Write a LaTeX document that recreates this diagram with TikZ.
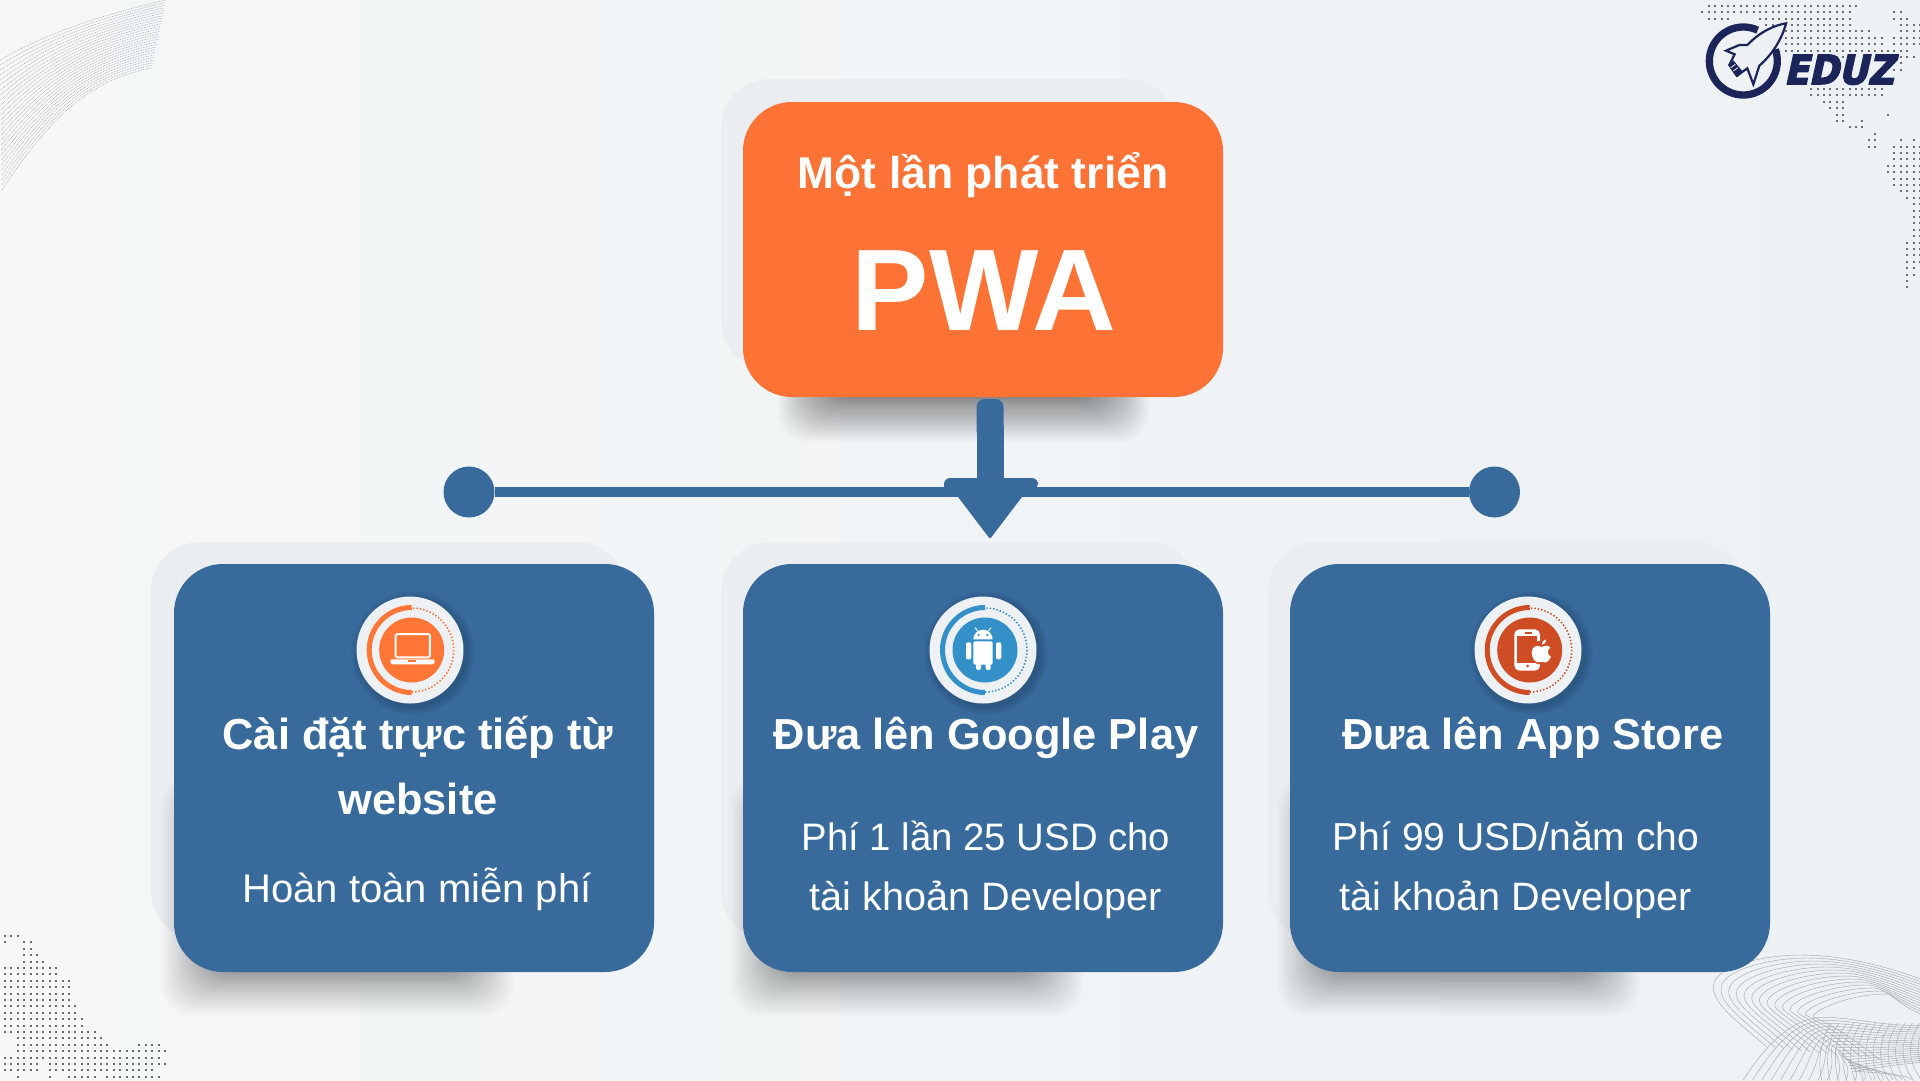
\documentclass[tikz,border=0pt]{standalone}
\usepackage{fontspec}
\setmainfont{Liberation Sans}
\newfontfamily\logofont[FakeBold=4,FakeSlant=0.22,FakeStretch=0.90]{DejaVu Sans Bold}
\usetikzlibrary{positioning}
\definecolor{orangebox}{HTML}{FC7335}
\definecolor{bluebox}{HTML}{386A9C}
\definecolor{logodark}{HTML}{1B2559}
\definecolor{bgL}{HTML}{F5F7F8}
\definecolor{bgR}{HTML}{EDF1F4}
\definecolor{halo}{HTML}{EBEEF1}
\definecolor{disc}{HTML}{EDF1F4}
\definecolor{dotc}{HTML}{6A6D73}
\definecolor{icorange}{HTML}{FF7637}
\definecolor{icblue}{HTML}{3490C8}
\definecolor{icred}{HTML}{CE4D24}
\definecolor{wavegray}{HTML}{A6ACB2}
\tikzset{
  cardbox/.style={rectangle,rounded corners=49pt,fill=bluebox,minimum width=480pt,minimum height=408pt,inner sep=0pt},
  topbox/.style={rectangle,rounded corners=49pt,fill=orangebox,minimum width=480pt,minimum height=295pt,inner sep=0pt},
  headtxt/.style={text=white,anchor=base,inner sep=0pt,font=\fontsize{43.4pt}{48pt}\selectfont\bfseries},
  bodytxt/.style={text=white,anchor=base,inner sep=0pt,font=\fontsize{39.6pt}{46pt}\selectfont},
  enddot/.style={circle,fill=bluebox,minimum size=51pt,inner sep=0pt},
  discnode/.style={circle,fill=disc,minimum size=107pt,inner sep=0pt},
  wave/.style={draw=wavegray,line width=0.45pt},
}
\newcommand{\softshadow}[5]{% x1 y1 x2 y2 strength
  \foreach \i in {1,...,32}{
    \pgfmathsetmacro{\off}{44*((32-\i)/31)^1.3}
    \fill[black,opacity=#5,rounded corners=30pt]
      ({#1-\off},{#2-\off}) rectangle ({#3+\off},{#4+\off});
  }
}
\newcommand{\discshadow}[2]{%
  \foreach \i in {1,...,6}{
    \fill[black,opacity=0.025] ({#1+3},{#2+3}) circle ({53.5+(7-\i)*1.4});
  }
}
\newcommand{\ringicon}[4]{% cx cy colour dx
  \fill[#3] ({#1+#4},#2) circle (32.5);
  \draw[#3,line width=5pt] ({#1+#4},{#2+42.5}) arc[start angle=90,end angle=270,radius=42.5];
  \draw[#3,line width=1.6pt,dash pattern=on 1.4pt off 2pt] ({#1+#4},{#2+42}) arc[start angle=90,end angle=-90,radius=42];
}
\begin{document}
\begin{tikzpicture}[x=1pt,y=-1pt]
\useasboundingbox (0,0) rectangle (1920,1080);
% background
\shade[left color=bgL,right color=bgR] (0,0) rectangle (1920,1080);
\begin{scope}
\clip (0,0) rectangle (1920,1080);
\foreach \i in {1,...,10}{
  \fill[white,opacity=0.07] (0,0) circle ({30+\i*28});
}
% top-left wave
\foreach \k in {0,...,26}{
  \pgfmathsetmacro{\t}{\k/26}
  \draw[wavegray,line width=0.55pt,dash pattern=on 0.8pt off 0.9pt]
    ({0+2*(1-\t)},{190-130*\t}) .. controls ({45-10*\t},{125-85*\t}) and ({85-5*\t},{80-60*\t}) .. ({152+14*\t},{68-68*\t});
}
% bottom-right wave
\begin{scope}[shift={(1700,930)},x=0.3333pt,y=-0.3333pt]
\foreach \k in {0,...,13}{
  \draw[wave] ({200+26*\k},{350+3*\k}) .. controls ({100+26*\k},{265+3*\k}) and ({40+23*\k},{220+3*\k}) .. ({40+23*\k},{170+7*\k})
     .. controls ({40+23*\k},{110+10*\k}) and ({190+20*\k},{75+9*\k}) .. ({300+20*\k},{75+9*\k})
     .. controls ({450+10*\k},{75+9*\k}) and (600,{120+9*\k}) .. (720,{170+8*\k});
}
\foreach \k in {0,...,18}{
  \draw[wave] ({130+28*\k},450) .. controls ({200+24*\k},{340+5*\k}) and ({280+10*\k},{262+9*\k}) .. ({370+5*\k},{262+9*\k})
     .. controls ({470},{262+9*\k}) and (560,{295+6*\k}) .. (720,{285+6*\k});
}
\foreach \k in {0,...,14}{
  \draw[wave] ({395+22*\k},280) .. controls ({360+22*\k},330) and ({350+22*\k},400) .. ({370+26*\k},470);
}
\end{scope}
% dots: bottom left
\foreach \r/\a/\b in {0/0/2,1/0/0,1/3/4,2/3/4,3/3/5,4/3/6,5/0/8,6/0/8,7/0/10,8/0/10,9/0/10,10/0/10,11/0/11,12/0/11,13/0/12,14/0/12,15/0/14,16/2/15,17/2/16,17/21/24,18/2/25,19/0/24,20/0/5,20/7/25,21/0/5,21/7/23,22/2/2,22/7/7,22/10/14,22/16/24}{
  \foreach \c in {\a,...,\b}{
    \fill[dotc] ({4.0+6.4*\c},{935.0+6.4*\r}) rectangle +(1.9,1.9);
  }
}
% dots: top right
\foreach \r/\a/\b in {0/0/26,1/1/24,2/0/23,2/30/31,3/1/4,3/9/23,3/30/32,4/10/23,4/31/34,5/13/26,5/31/34,6/13/28,6/30/34,7/13/28,7/30/34,8/13/32,9/21/23,9/31/33,10/30/31,11/30/31,14/17/28,15/17/28,16/19/22,17/20/22,18/21/22,18/29/29,19/21/22,19/25/25,20/23/25,21/27/27,22/26/27,22/31/31,22/33/33,23/26/27,23/30/34,24/30/34,25/30/34,26/29/34,27/29/34,28/30/34,29/30/34,30/31/34,31/32/34,32/33/34,33/33/34,34/33/34,35/33/34,36/33/34,37/33/34,38/32/34,39/32/34,40/32/34,41/32/34,42/32/33,43/32/33,44/32/32,45/32/32}{
  \foreach \c in {\a,...,\b}{
    \fill[dotc] ({1701.4+6.4*\c},{-1.6+6.4*\r}) rectangle +(1.9,1.9);
  }
}
\end{scope}
% logo
\begin{scope}[shift={(1700,15)},x=0.3333pt,y=-0.3333pt]
  \draw[logodark,line width=7.3pt] ({130+102*cos(65)},{138-102*sin(65)}) arc[start angle=-65,end angle=-380,radius=102];
  \draw[logodark,line width=2.2pt,line join=miter,fill=bgR,miter limit=8]
    (258,25) .. controls (225,30) and (180,50) .. (142,90) -- (118,90) -- (78,107) -- (104,118) -- (88,150) -- (110,182) -- (142,160) -- (160,208) -- (178,152) .. controls (215,120) and (245,75) .. cycle;
  \fill[logodark] (86,150) -- (100,136) -- (130,172) -- (112,186) -- cycle;
  \draw[bgR,line width=0.8pt] (92,158) -- (106,148) (100,168) -- (114,158);
  \node[text=logodark,inner sep=0pt,anchor=base] (logotext) at (417,207) {\logofont\fontsize{40pt}{40pt}\selectfont EDUZ};
\end{scope}
% halos
\fill[halo,rounded corners=49pt] (721,79) rectangle (1176,370);
\fill[halo,rounded corners=49pt] (151,542) rectangle (626,940);
\fill[halo,rounded corners=49pt] (721,542) rectangle (1198,940);
\fill[halo,rounded corners=49pt] (1268,542) rectangle (1745,940);
% shadows
\softshadow{822}{360}{1105}{398}{0.015}
\softshadow{205}{820}{470}{972}{0.011}
\softshadow{774}{820}{1039}{972}{0.011}
\softshadow{1321}{820}{1596}{972}{0.011}
% connector
\node[enddot] (dotL) at (469,492) {};
\node[enddot] (dotR) at (1494.5,492) {};
\draw[bluebox,line width=10pt] (dotL) -- (dotR);
% boxes
\node[topbox] (pwa) at (983,249.5) {};
\node[cardbox] (cardA) at (414,768) {};
\node[cardbox] (cardB) at (983,768) {};
\node[cardbox] (cardC) at (1530,768) {};
% arrow
\coordinate (stemTop) at (990,399);
\coordinate (headTip) at (990,539);
\fill[bluebox,rounded corners=8pt] (stemTop) ++(-13.5,0) rectangle ++(27,40);
\fill[bluebox] (976.5,425) rectangle (1003.5,482);
\fill[bluebox] (944,486) [rounded corners=6pt] -- (944,478) -- (1038,478) -- (1038,489) [sharp corners] -- (1028,489) [rounded corners=2pt] -- (headTip) [sharp corners] -- (952,489) [rounded corners=3pt] -- (944,489) -- cycle;
% texts
\node[headtxt,font=\fontsize{44.5pt}{48pt}\selectfont\bfseries] (t1) at (983,188) {Một lần phát triển};
\node[headtxt,font=\fontsize{116pt}{120pt}\selectfont\bfseries] (t2) at (984,330) {PWA};
\node[headtxt] (a1) at (418,749) {Cài đặt trực tiếp từ};
\node[headtxt] (a2) at (418,814) {website};
\node[bodytxt,font=\fontsize{40pt}{46pt}\selectfont] (a3) at (417,902) {Hoàn toàn miễn phí};
\node[headtxt] (b1) at (986,749) {Đưa lên Google Play};
\node[bodytxt,font=\fontsize{38.3pt}{46pt}\selectfont] (b2) at (986,850) {Phí 1 lần 25 USD cho};
\node[bodytxt] (b3) at (986,910) {tài khoản Developer};
\node[headtxt] (c1) at (1533,749) {Đưa lên App Store};
\node[bodytxt,font=\fontsize{39pt}{46pt}\selectfont] (c2) at (1516,850) {Phí 99 USD/năm cho};
\node[bodytxt] (c3) at (1516,910) {tài khoản Developer};
% icon discs
\discshadow{410}{650}
\discshadow{983}{650}
\discshadow{1528}{650}
\node[discnode] (discA) at (410,650) {};
\node[discnode] (discB) at (983,650) {};
\node[discnode] (discC) at (1528,650) {};
\ringicon{410}{650}{icorange}{1.7}
\ringicon{983}{650}{icblue}{2}
\ringicon{1528}{650}{icred}{1.7}
% laptop
\begin{scope}[shift={(340,580)},x=0.3333pt,y=-0.3333pt]
  \draw[white,line width=2pt,rounded corners=1.5pt] (167,162) rectangle (270,232);
  \fill[white,rounded corners=1.5pt] (150,238) -- (285,238) -- (282,253) -- (153,253) -- cycle;
  \fill[icorange] (205,239) rectangle (228,245);
\end{scope}
% android
\begin{scope}[shift={(910,580)},x=0.3333pt,y=-0.3333pt]
  \fill[white] (190,178) arc[start angle=-180,end angle=0,radius=29] -- cycle;
  \draw[white,line width=1pt] (205,155) -- (195,143) (233,155) -- (243,143);
  \fill[icblue] (206,165) circle (3.5) (232,165) circle (3.5);
  \fill[white,rounded corners=1.5pt] (190,184) rectangle (248,254);
  \fill[white,rounded corners=2pt] (168,187) rectangle (184,238) (258,187) rectangle (274,238);
  \fill[white,rounded corners=2pt] (198,240) rectangle (213,270) (227,240) rectangle (242,270);
\end{scope}
% phone and apple
\begin{scope}[shift={(1460,580)},x=0.3333pt,y=-0.3333pt]
  \fill[white,rounded corners=5pt] (163,148) rectangle (240,272);
  \fill[icred] (172,168) rectangle (232,250);
  \fill[icred] (195,156) rectangle (215,161);
  \fill[icred] (203,258) circle (4.5);
  \fill[icred] (244,218) circle (36);
  \fill[white] (245,201) .. controls (230,193) and (215,200) .. (215,218)
     .. controls (215,235) and (228,250) .. (236,247) .. controls (242,245) and (248,245) .. (254,247)
     .. controls (262,250) and (270,236) .. (273,230) .. controls (262,226) and (260,208) .. (271,203)
     .. controls (262,193) and (252,197) .. (245,201) -- cycle;
  \fill[white] (245,194) .. controls (245,185) and (250,180) .. (258,178) .. controls (258,188) and (253,193) .. (245,194) -- cycle;
\end{scope}
\end{tikzpicture}
\end{document}
